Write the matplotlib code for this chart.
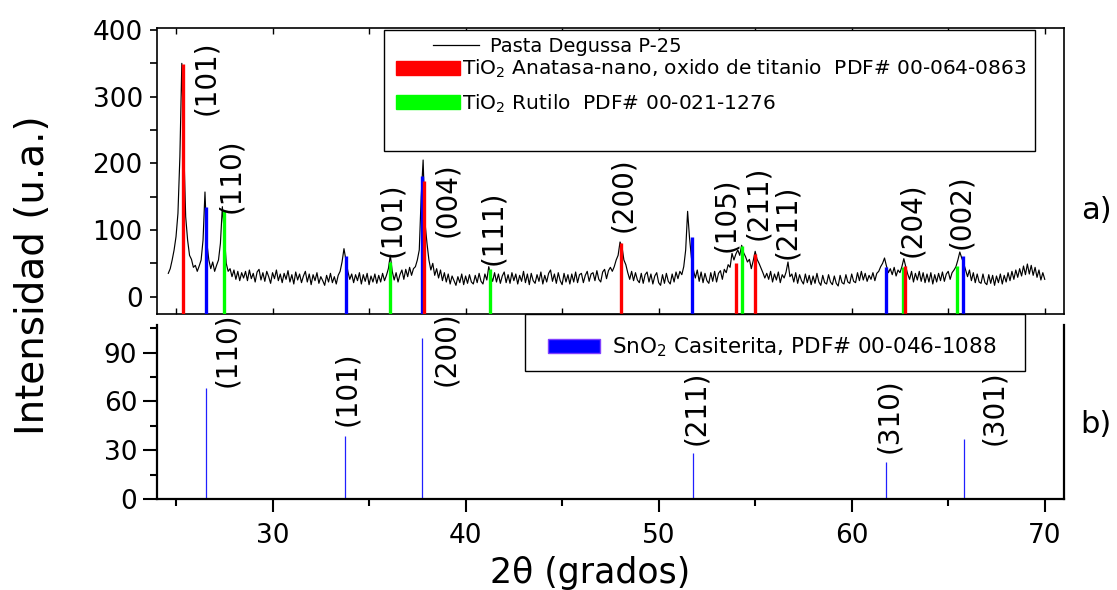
import numpy as np
import matplotlib
matplotlib.use("Agg")
import matplotlib.pyplot as plt
from matplotlib.ticker import MultipleLocator, FixedLocator
from matplotlib.lines import Line2D
from matplotlib.patches import Patch, Rectangle

##############################################################################
# Datos
#-----------------------------------------------------------------------------
# barrido 2theta: 24.6 a 70.0 grados, paso 0.1
tt_ini = 24.6
tt_fin = 70.0
intensidad = [
    35, 42, 55, 70, 90, 125, 210, 350, 225, 120,   # 24.6
    85, 62, 56, 44, 47, 38, 46, 55, 85, 157,       # 25.6
    80, 55, 42, 52, 38, 47, 55, 80, 135, 95,       # 26.6
    50, 38, 42, 30, 40, 26, 38, 24, 36, 28,        # 27.6
    38, 24, 40, 27, 35, 22, 37, 41, 25, 36,        # 28.6
    23, 38, 30, 20, 36, 27, 40, 24, 34, 21,        # 29.6
    35, 26, 39, 22, 33, 19, 37, 25, 34, 21,        # 30.6
    31, 38, 22, 34, 18, 33, 24, 36, 20, 30,        # 31.6
    24, 17, 32, 22, 35, 21, 30, 19, 32, 38,        # 32.6
    52, 72, 55, 38, 26, 34, 21, 33, 24, 36,        # 33.6
    19, 33, 23, 35, 18, 31, 22, 34, 20, 32,        # 34.6
    22, 35, 24, 32, 42, 62, 38, 25, 36, 22,        # 35.6
    33, 40, 26, 41, 30, 44, 32, 42, 45, 55,        # 36.6
    70, 150, 205, 110, 80, 55, 40, 50, 32, 42,     # 37.6
    28, 40, 24, 36, 22, 34, 19, 31, 24, 17,        # 38.6
    30, 21, 34, 18, 31, 20, 33, 22, 19, 32,        # 39.6
    21, 35, 23, 19, 34, 25, 45, 32, 23, 36,        # 40.6
    22, 34, 20, 31, 37, 21, 33, 20, 36, 24,        # 41.6
    34, 19, 32, 23, 38, 21, 34, 18, 35, 24,        # 42.6
    20, 33, 23, 37, 19, 32, 22, 35, 40, 23,        # 43.6
    34, 20, 36, 24, 18, 35, 22, 33, 19, 34,        # 44.6
    22, 37, 21, 33, 35, 21, 32, 38, 23, 34,        # 45.6
    36, 24, 39, 26, 22, 37, 41, 27, 39, 44,        # 46.6
    38, 45, 55, 62, 82, 75, 55, 48, 36, 26,        # 47.6
    38, 24, 36, 25, 21, 35, 20, 33, 37, 22,        # 48.6
    34, 19, 31, 36, 21, 17, 33, 20, 35, 23,        # 49.6
    19, 34, 22, 37, 27, 38, 33, 45, 70, 128,       # 50.6
    88, 58, 40, 28, 40, 23, 37, 21, 35, 24,        # 51.6
    20, 36, 23, 38, 22, 35, 39, 26, 41, 36,        # 52.6
    48, 44, 65, 55, 64, 70, 62, 77, 66, 60,        # 53.6
    52, 56, 42, 54, 68, 56, 50, 43, 36, 28,        # 54.6
    35, 26, 38, 22, 34, 25, 37, 21, 33, 28,        # 55.6
    37, 52, 30, 34, 22, 36, 20, 33, 24, 19,        # 56.6
    34, 21, 32, 18, 31, 20, 35, 22, 17, 32,        # 57.6
    21, 19, 33, 22, 18, 31, 20, 16, 32, 21,        # 58.6
    19, 33, 22, 20, 34, 23, 21, 36, 24, 38,        # 59.6
    25, 35, 23, 32, 26, 36, 24, 35, 38, 45,        # 60.6
    50, 58, 46, 36, 42, 33, 44, 31, 40, 36,        # 61.6
    45, 57, 45, 34, 26, 38, 22, 35, 25, 38,        # 62.6
    23, 36, 21, 34, 22, 36, 19, 33, 22, 35,        # 63.6
    24, 37, 23, 34, 38, 26, 36, 40, 45, 55,        # 64.6
    67, 58, 50, 40, 30, 40, 24, 36, 21, 34,        # 65.6
    22, 20, 34, 21, 18, 33, 20, 32, 17, 31,        # 66.6
    21, 34, 19, 32, 22, 36, 24, 38, 26, 40,        # 67.6
    29, 42, 31, 46, 33, 49, 34, 47, 32, 44,        # 68.6
    29, 40, 25, 36, 26,                            # 69.6
]

# fichas PDF (posicion, intensidad en el panel a)
anatasa_pos = [25.35, 37.85, 48.06, 54.0, 55.0, 62.77]
anatasa_int = [349, 174, 81, 50, 64, 46]
rutilo_pos = [27.5, 36.1, 41.25, 54.33, 62.68, 65.48]
rutilo_int = [130, 52, 42, 76, 45, 46]
sno2_a_pos = [26.55, 33.78, 37.74, 51.74, 61.77, 65.74]
sno2_a_int = [135, 61, 181, 90, 44, 61]

# panel b: casiterita
sno2_pos = [26.57, 33.76, 37.76, 51.79, 61.80, 65.84]
sno2_int = [68, 39, 99, 28.5, 22.6, 36.8]

# indices de Miller
hkl_a = ['(101)', '(110)', '(101)', '(004)', '(111)', '(200)',
         '(105)', '(211)', '(211)', '(204)', '(002)']
hkl_a_x = [26.54, 27.88, 36.19, 39.04, 41.42, 48.15, 53.5, 55.17, 56.63, 63.15, 65.69]
hkl_a_y = [272, 125, 60, 90, 47, 97, 67, 85, 57, 60, 72]

hkl_b = ['(110)', '(101)', '(200)', '(211)', '(310)', '(301)']
hkl_b_x = [27.65, 33.86, 39.0, 51.93, 61.95, 67.37]
hkl_b_y = [69, 45, 69.6, 33, 28, 33]
#============================================================================

tt = np.linspace(tt_ini, tt_fin, len(intensidad))

ya_min, ya_max = -26, 403
yb_min, yb_max = 0, 107
x_min, x_max = 24.0, 71.0

fig = plt.figure(figsize=(11.17, 5.90), dpi=100)
ax1 = fig.add_axes([0.1403, 0.4678, 0.8123, 0.4847])
ax2 = fig.add_axes([0.1403, 0.1542, 0.8123, 0.2950])

# ---------------- panel a
ax1.plot(tt, intensidad, color='black', lw=0.85, zorder=2)
ax1.vlines(sno2_a_pos, ya_min, sno2_a_int, colors='#0000ff', lw=2.4, zorder=3)
ax1.vlines(rutilo_pos, ya_min, rutilo_int, colors='#00ff00', lw=2.4, zorder=3)
ax1.vlines(anatasa_pos, ya_min, anatasa_int, colors='#ff0000', lw=2.4, zorder=3)
for t, x, y in zip(hkl_a, hkl_a_x, hkl_a_y):
    ax1.text(x, y, t, rotation=90, ha='center', va='bottom', fontsize=20)

ax1.set_xlim(x_min, x_max)
ax1.set_ylim(ya_min, ya_max)
ax1.yaxis.set_major_locator(FixedLocator([0, 100, 200, 300, 400]))
ax1.yaxis.set_minor_locator(FixedLocator([50, 150, 250, 350]))
ax1.xaxis.set_major_locator(MultipleLocator(5))
ax1.tick_params(axis='y', which='both', direction='out', length=5, width=1.2,
                labelsize=19, pad=5)
ax1.tick_params(axis='x', which='both', direction='in', length=4, width=1,
                top=True, bottom=True, labelbottom=False)
for s in ax1.spines.values():
    s.set_linewidth(1.2)

# leyenda panel a (marco propio, dos bloques)
ax1.add_patch(Rectangle((0.2504, 0.570), 0.7176, 0.423, transform=ax1.transAxes,
                        facecolor='white', edgecolor='black', lw=1, zorder=4))
leg_p = ax1.legend([Line2D([], [], color='black', lw=0.9)], ['Pasta Degussa P-25'],
                   loc='center left', bbox_to_anchor=(0.3040, 0.937),
                   frameon=False, borderpad=0, borderaxespad=0, fontsize=14,
                   handlelength=2.4, handletextpad=0.55)
leg_p.set_zorder(5)
ax1.add_artist(leg_p)

h_t = [Patch(facecolor='#ff0000', edgecolor='#ff0000'),
       Patch(facecolor='#00ff00', edgecolor='#00ff00')]
l_t = ['TiO$_2$ Anatasa-nano, oxido de titanio  PDF# 00-064-0863',
       'TiO$_2$ Rutilo  PDF# 00-021-1276']
leg_t = ax1.legend(h_t, l_t, loc='upper left', bbox_to_anchor=(0.2637, 0.895),
                   frameon=False, borderpad=0, borderaxespad=0, fontsize=14.5,
                   handlelength=3.2, handleheight=0.7, handletextpad=0.1,
                   labelspacing=0.6)
leg_t.set_zorder(5)

# ---------------- panel b
ax2.vlines(sno2_pos, 0, sno2_int, colors='#2020ff', lw=0.9)
for t, x, y in zip(hkl_b, hkl_b_x, hkl_b_y):
    ax2.text(x, y, t, rotation=90, ha='center', va='bottom', fontsize=20)

ax2.set_xlim(x_min, x_max)
ax2.set_ylim(yb_min, yb_max)
ax2.xaxis.set_major_locator(MultipleLocator(10))
ax2.xaxis.set_minor_locator(MultipleLocator(5))
ax2.yaxis.set_major_locator(FixedLocator([0, 30, 60, 90]))
ax2.yaxis.set_minor_locator(FixedLocator([15, 45, 75, 105]))
ax2.tick_params(axis='both', which='major', direction='out', length=10, width=1.5,
                labelsize=19)
ax2.tick_params(axis='both', which='minor', direction='out', length=5, width=1.5)
ax2.tick_params(axis='x', which='major', length=9.5, pad=8)
ax2.tick_params(axis='y', which='major', pad=4)
ax2.spines['top'].set_visible(False)
for k in ['left', 'right', 'bottom']:
    ax2.spines[k].set_linewidth(1.6)

ax2.add_patch(Rectangle((0.406, 0.7356), 0.551, 0.3274, transform=ax2.transAxes,
                        facecolor='white', edgecolor='black', lw=1, zorder=4,
                        clip_on=False))
leg2 = ax2.legend([Patch(facecolor='#0000ff', edgecolor='#8040ff')],
                  ['SnO$_2$ Casiterita, PDF# 00-046-1088'],
                  loc='center left', bbox_to_anchor=(0.4313, 0.8695),
                  frameon=False, borderpad=0, borderaxespad=0, fontsize=15.5,
                  handlelength=2.4, handleheight=0.6, handletextpad=0.55)
leg2.set_zorder(5)

# ---------------- textos
fig.text(0.0295, 0.534, 'Intensidad (u.a.)', rotation=90, ha='center',
         va='center', fontsize=28)
fig.text(0.528, 0.0119, '2\u03b8 (grados)', ha='center', va='baseline', fontsize=25)
fig.text(0.968, 0.6424, 'a)', ha='left', va='center', fontsize=22)
fig.text(0.967, 0.2797, 'b)', ha='left', va='center', fontsize=22)

fig.savefig('out.png', dpi=100)
